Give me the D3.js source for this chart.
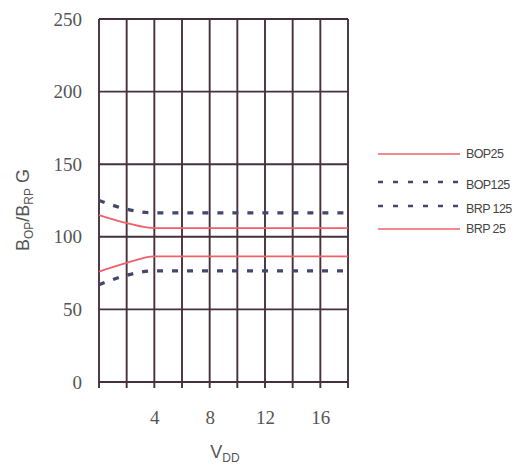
<!DOCTYPE html>
<html lang="en">
<head>
	<meta charset="UTF-8">
	<title>BOP / BRP vs VDD</title>
	<style>
		body{margin:0;background:#fff;}
		text{font-family:"Liberation Serif",serif;}
	</style>
</head>
<body>
</body>
<script src="https://cdn.jsdelivr.net/npm/d3@7/dist/d3.min.js"></script>
<script>
	var vdd=[0,2,4,6,8,10,12,14,16,18];
	var bop25=[115,109.5,106,106,106,106,106,106,106,106];
	var bop125=[125,119,116.5,116.5,116.5,116.5,116.5,116.5,116.5,116.5];
	var brp125=[67,73.5,76.5,76.5,76.5,76.5,76.5,76.5,76.5,76.5];
	var brp25=[76,82,86.5,86.5,86.5,86.5,86.5,86.5,86.5,86.5];
	var xTicks=[4,8,12,16];
	var yTicks=[0,50,100,150,200,250];
	var legendNames=["BOP25","BOP125","BRP 125","BRP 25"];

	var width=518,height=469;
	var padding={top:19,left:99,right:170,bottom:87};

	var svg=d3.select('body')
				.append('svg')
				.attr('width',width)
				.attr('height',height);

	var xScale=d3.scaleLinear()
				.domain([0,18])
				.range([padding.left,width-padding.right]);
	var yScale=d3.scaleLinear()
				.domain([0,250])
				.range([height-padding.bottom,padding.top]);

	var gridColor="#46303c";

	// vertical grid, one line every 2 V
	svg.append('g').selectAll('line')
		.data(d3.range(0,19,2))
		.enter().append('line')
		.attr('x1',function(d){return xScale(d);})
		.attr('x2',function(d){return xScale(d);})
		.attr('y1',yScale(250))
		.attr('y2',yScale(0)+6)
		.attr('stroke',gridColor)
		.attr('stroke-width',1.9);

	// horizontal grid
	svg.append('g').selectAll('line')
		.data(yTicks)
		.enter().append('line')
		.attr('x1',xScale(0))
		.attr('x2',xScale(18))
		.attr('y1',function(d){return yScale(d);})
		.attr('y2',function(d){return yScale(d);})
		.attr('stroke',gridColor)
		.attr('stroke-width',1.9);

	// axis labels via d3 axes, lines hidden
	var xAxis=d3.axisBottom(xScale).tickValues(xTicks).tickSize(0).tickPadding(29);
	var yAxis=d3.axisLeft(yScale).tickValues(yTicks).tickSize(0).tickPadding(17);

	var gx=svg.append('g')
		.attr('transform','translate(0,'+yScale(0)+')')
		.call(xAxis);
	var gy=svg.append('g')
		.attr('transform','translate('+xScale(0)+',0)')
		.call(yAxis);
	[gx,gy].forEach(function(g){
		g.select('.domain').remove();
		g.selectAll('text')
			.attr('font-family','"Liberation Serif",serif')
			.attr('font-size',19)
			.attr('fill','#555');
	});

	// titles
	var yt=svg.append('text')
		.attr('transform','translate(29,210) rotate(-90)')
		.attr('text-anchor','middle')
		.style('font-family','"Liberation Sans",Arial,sans-serif')
		.attr('font-size',18)
		.attr('fill','#555');
	yt.append('tspan').text('B');
	yt.append('tspan').text('OP').attr('font-size',12).attr('dy',4);
	yt.append('tspan').text('/B').attr('dy',-4);
	yt.append('tspan').text('RP').attr('font-size',12).attr('dy',4);
	yt.append('tspan').text(' G').attr('dy',-4);

	var xt=svg.append('text')
		.attr('x',225)
		.attr('y',458)
		.attr('text-anchor','middle')
		.style('font-family','"Liberation Sans",Arial,sans-serif')
		.attr('font-size',18)
		.attr('fill','#555');
	xt.append('tspan').text('V');
	xt.append('tspan').text('DD').attr('font-size',12).attr('dy',4);

	// series
	var series=[
		{name:"BOP25",values:bop25,color:"#f0606a",width:1.8,dash:null},
		{name:"BOP125",values:bop125,color:"#44466e",width:3.3,dash:"6,9"},
		{name:"BRP 125",values:brp125,color:"#44466e",width:3.3,dash:"6,9"},
		{name:"BRP 25",values:brp25,color:"#f0606a",width:1.8,dash:null}
	];

	var line=d3.line()
		.x(function(d){return xScale(d[0]);})
		.y(function(d){return yScale(d[1]);})
		.curve(d3.curveMonotoneX);

	series.forEach(function(s){
		svg.append('path')
			.datum(vdd.map(function(v,i){return [v,s.values[i]];}))
			.attr('d',line)
			.attr('fill','none')
			.attr('stroke',s.color)
			.attr('stroke-width',s.width)
			.attr('stroke-dasharray',s.dash);
	});

	// legend
	var legY=[154,182,206,229];
	var leg=svg.append('g');
	series.forEach(function(s,i){
		leg.append('line')
			.attr('x1',378).attr('x2',460)
			.attr('y1',legY[i]).attr('y2',legY[i])
			.attr('stroke',s.color)
			.attr('stroke-width',s.dash?2.5:1.5)
			.attr('stroke-dasharray',s.dash?"5,10":null);
		leg.append('text')
			.attr('x',466)
			.attr('y',legY[i]+(s.dash?7:4))
			.style('font-family','"Liberation Sans",Arial,sans-serif')
			.attr('font-size',12.5)
			.attr('letter-spacing',-0.6)
			.attr('fill','#444')
			.text(legendNames[i]);
	});
</script>
</html>
